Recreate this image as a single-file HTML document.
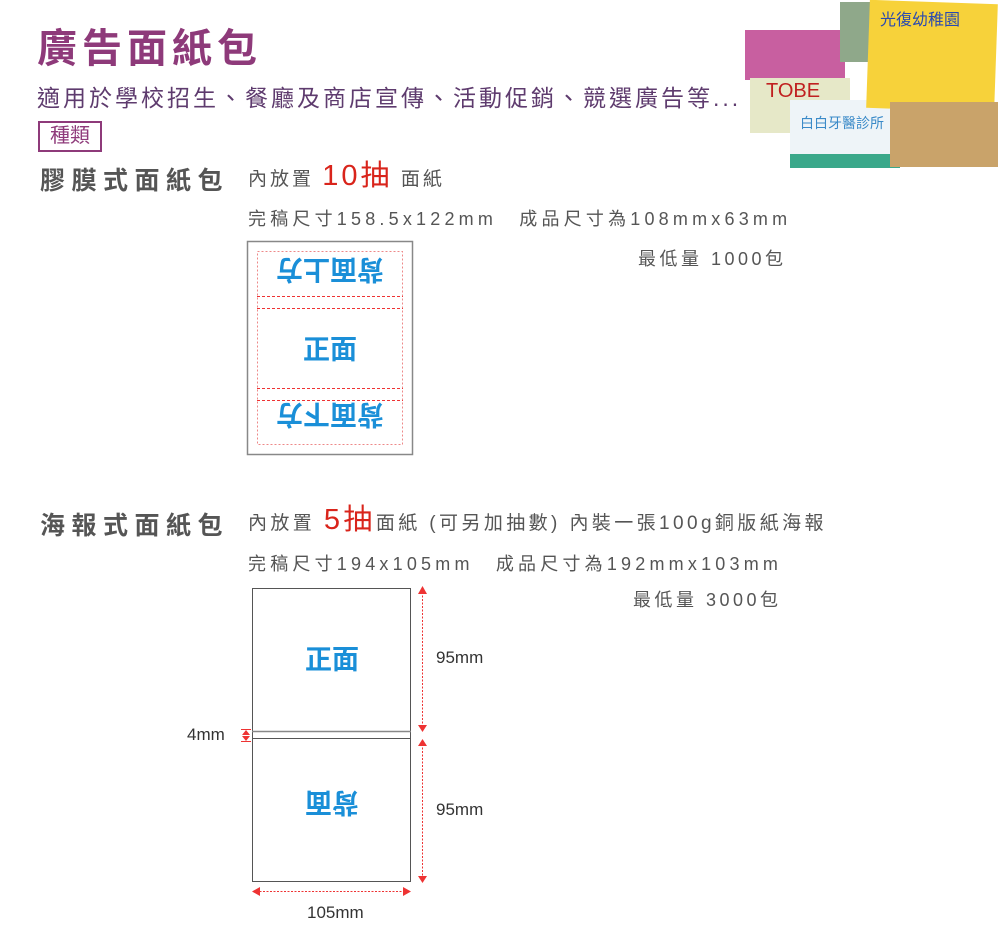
<!DOCTYPE html><html><head><meta charset="utf-8"><style>
body{margin:0;width:1000px;height:939px;background:#fff;position:relative;overflow:hidden;font-family:"Liberation Sans","Noto Sans CJK TC",sans-serif}
.a{position:absolute;white-space:nowrap}
.g{color:#555}
.b{color:#1a8fd8;font-weight:bold;font-size:27px}
.r{color:#d9241b;font-size:29px;line-height:20px}
</style></head><body>
<div class="a" style="left:37px;top:16px;font-size:40px;font-weight:bold;color:#8e3a7a;letter-spacing:5px">廣告面紙包</div>
<div class="a" style="left:37px;top:79px;font-size:23px;color:#5e3b6e;letter-spacing:3px">適用於學校招生、餐廳及商店宣傳、活動促銷、競選廣告等...</div>
<div class="a" style="left:38px;top:121px;width:60px;height:27px;border:2px solid #8e3a7a;font-size:20px;color:#8e3a7a;text-align:center;line-height:27px">種類</div>
<div class="a g" style="left:40px;top:161px;font-size:25px;font-weight:bold;letter-spacing:6.5px">膠膜式面紙包</div>
<div class="a g" style="left:248px;top:166px;font-size:19px;line-height:24px;letter-spacing:3px">內放置 <span class="r">10抽</span> 面紙</div>
<div class="a g" style="left:248px;top:205px;font-size:18px;letter-spacing:4.2px">完稿尺寸158.5x122mm　成品尺寸為108mmx63mm</div>
<div class="a g" style="left:638px;top:245px;font-size:18px;letter-spacing:3.5px">最低量 1000包</div>

<div class="a g" style="left:40px;top:506px;font-size:25px;font-weight:bold;letter-spacing:6.5px">海報式面紙包</div>
<div class="a g" style="left:248px;top:510px;font-size:19px;line-height:24px;letter-spacing:3.4px">內放置 <span class="r">5抽</span>面紙 (可另加抽數) 內裝一張100g銅版紙海報</div>
<div class="a g" style="left:248px;top:550px;font-size:18px;letter-spacing:4.2px">完稿尺寸194x105mm　成品尺寸為192mmx103mm</div>
<div class="a g" style="left:633px;top:586px;font-size:18px;letter-spacing:3.5px">最低量 3000包</div>

<div class="a" style="left:745px;top:30px;width:100px;height:50px;background:#c85fa0"></div>
<div class="a" style="left:750px;top:78px;width:100px;height:55px;background:#e6e8c8"></div>
<div class="a" style="left:790px;top:100px;width:110px;height:68px;background:#eef4f8;border-bottom:14px solid #3aa88a;box-sizing:border-box"></div>
<div class="a" style="left:840px;top:2px;width:40px;height:60px;background:#8fa88a"></div>
<div class="a" style="left:868px;top:2px;width:128px;height:108px;background:#f7d23a;transform:rotate(2deg)"></div>
<div class="a" style="left:890px;top:102px;width:108px;height:65px;background:#c9a36a"></div>
<div class="a" style="left:766px;top:80px;font-size:20px;color:#c02020">TOBE</div>
<div class="a" style="left:880px;top:6px;font-size:16px;color:#2a4ab0">光復幼稚園</div>
<div class="a" style="left:800px;top:113px;font-size:14px;color:#3a8ac8">白白牙醫診所</div>

<svg class="a" style="left:0;top:0" width="1000" height="939">
<rect x="247.5" y="241.5" width="165" height="213" fill="none" stroke="#888" stroke-width="1.5"/>
<rect x="257.5" y="251.5" width="145" height="193" fill="none" stroke="#e88" stroke-dasharray="2,2"/>
<g stroke="#e33" stroke-dasharray="3,2"><line x1="257" y1="296.5" x2="403" y2="296.5"/><line x1="257" y1="308.5" x2="403" y2="308.5"/><line x1="257" y1="388.5" x2="403" y2="388.5"/><line x1="257" y1="400.5" x2="403" y2="400.5"/></g>
<rect x="252.5" y="588.5" width="158" height="293" fill="none" stroke="#555"/>
<line x1="252" y1="731.5" x2="411" y2="731.5" stroke="#888" stroke-width="1.5"/>
<line x1="252" y1="738.5" x2="411" y2="738.5" stroke="#555"/>
<g stroke="#e33" stroke-dasharray="2,1.5" fill="none"><line x1="422.5" y1="592" x2="422.5" y2="727"/><line x1="422.5" y1="744" x2="422.5" y2="878"/><line x1="256" y1="891.5" x2="407" y2="891.5"/></g>
<g fill="#e33"><path d="M418,594 L427,594 L422.5,586Z"/><path d="M418,725 L427,725 L422.5,732Z"/><path d="M418,746 L427,746 L422.5,739Z"/><path d="M418,876 L427,876 L422.5,883Z"/><path d="M260,887 L260,896 L252,891.5Z"/><path d="M403,887 L403,896 L411,891.5Z"/><path d="M242,735 L250,735 L246,730Z"/><path d="M242,736 L250,736 L246,741Z"/></g>
<g stroke="#e33"><line x1="241" y1="729.5" x2="251" y2="729.5"/><line x1="241" y1="741.5" x2="251" y2="741.5"/></g>
</svg>
<div class="a b" style="left:0;top:257px;width:660px;text-align:center;transform:rotate(180deg);transform-origin:330px 17px">背面上方</div>
<div class="a b" style="left:0;top:328px;width:660px;text-align:center">正面</div>
<div class="a b" style="left:0;top:402px;width:660px;text-align:center;transform:rotate(180deg);transform-origin:330px 17px">背面下方</div>
<div class="a b" style="left:0;top:638px;width:664px;text-align:center">正面</div>
<div class="a b" style="left:0;top:790px;width:664px;text-align:center;transform:rotate(180deg);transform-origin:332px 17px">背面</div>
<div class="a" style="left:436px;top:648px;font-size:17px;color:#333">95mm</div>
<div class="a" style="left:436px;top:800px;font-size:17px;color:#333">95mm</div>
<div class="a" style="left:187px;top:725px;font-size:17px;color:#333">4mm</div>
<div class="a" style="left:307px;top:903px;font-size:17px;color:#333">105mm</div>
</body></html>
